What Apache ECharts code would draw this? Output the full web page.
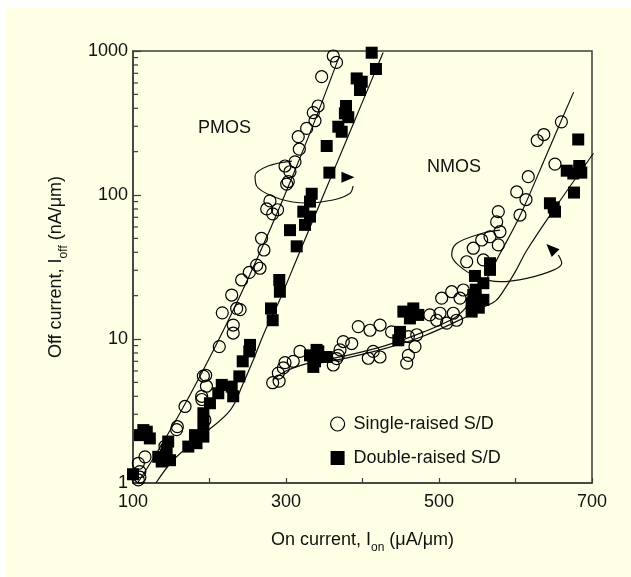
<!DOCTYPE html>
<html>
<head>
<meta charset="utf-8">
<script src="https://cdn.jsdelivr.net/npm/echarts@6/dist/echarts.min.js"></script>
<style>
  html, body { margin: 0; padding: 0; background: #ffffff; }
  #chart { width: 631px; height: 577px; }
</style>
</head>
<body>
<div id="chart"></div>
<script>
// ---- measured data: [on current (uA/um), off current (nA/um)] ----
const pmosSingle = [
  [361.8,923],[366,833],[346.6,663],[342,415],[335.7,373],[337.9,328],[327,290],[316,254],
  [317.4,208],[311.8,170],[298.7,159],[305.2,145],[300.9,119],[303,124],[279,91],[274.8,80],
  [289,79],[282.6,74],[268,50],[271.2,41.5],[261.7,32.6],[266,31],[252,29],[242,25.7],
  [229,20.2],[216.7,15.2],[235.5,16.3],[240,16],[231,12.5],[231,11],[212.8,8.85],[192,5.53],
  [195,5.6],[196,4.7],[189.8,4.0],[190,3.8],[194,2.74],[168,3.4],[158,2.46],[157,2.35],
  [141.8,1.8],[115.7,1.52],[107,1.37],[109,1.2],[109,1.1],[107,1.05]
];
const pmosDouble = [
  [412,973],[417.6,750],[392.4,645],[399,612],[396.7,536],[378.4,415],[377,369],[381.4,347],
  [368.4,298],[372.8,275],[353.2,219],[356.7,143],[333.6,102],[331.4,90],[322.6,76.6],[331.4,70.8],
  [324.8,62],[305.2,57],[314,44],[291.2,25.7],[292,21.3],[280.4,16.3],[282.6,13.5],[253,9.1],
  [252,8.2],[243.4,7.0],[239,5.5],[229,4.67],[216,4.8],[211.5,4.2],[231,4.0],[200.6,3.58],
  [192,3.05],[192,2.53],[192,2.1],[181,2.15],[183,1.89],[172.3,1.79],[146,1.94],[144,1.7],
  [148.4,1.44],[133,1.52],[137.5,1.41],[113.5,2.33],[109,2.15],[122,2.04],[118,2.27],[100,1.15]
];
const nmosSingle = [
  [651.6,164],[616.7,134],[601.6,105],[613.7,93],[605.9,72.6],[577.5,76.6],[575.4,65],[579.7,55.6],
  [566.7,51.3],[577.5,45],[555.8,48.7],[544.8,42.7],[558,35.4],[536.2,34.4],[503.5,19.2],[516.6,21.3],
  [531.8,21.9],[527.5,19.2],[518.7,15.1],[501.3,15.1],[497,13.5],[510,12.9],[523,13.5],[488,14.7],
  [470.9,10.7],[460,10.4],[468.6,8.85],[460,7.7],[457.8,6.8],[438,11.2],[422.9,12.5],[409.8,11.5],
  [394.5,12.2],[422.9,7.5],[414,8.2],[407.6,7.35],[385.9,9.3],[374.9,9.6],[370.6,8.4],[361.8,6.6],
  [368.4,7.7],[282.6,4.97],[291,5.1],[290,5.8],[296.5,6.3],[298.7,6.85],[309.5,7.0],[318.3,8.2],
  [366.3,7.3],[628.4,239],[637,263],[660,322]
];
const nmosDouble = [
  [683.4,159],[667,147.5],[675.6,141],[686,143],[676.5,104],[645,87.6],[651.6,76.6],[650,82],
  [566.7,33.6],[566.7,30.2],[547,27.4],[558,24.4],[544.8,20.2],[548,22],[558,18.7],[542.7,17.7],
  [542.7,15.5],[552,16.5],[466.4,16.3],[453.4,15.5],[472.9,14.7],[462,13.9],[449,11.2],[446.8,9.8],
  [342.2,8.2],[337.9,7.0],[353.2,7.5],[331.4,7.7],[335.7,6.4],[340,8.4],[682,243],[683.7,151]
];

// ---- trend curves drawn through each data set ----
const pmosSingleFit = [[106,1],[130,1.59],[160,2.97],[190,5.83],[220,12.0],[250,26.0],[280,59.0],[310,141],[340,353],[368,871]];
const pmosDoubleFit = [[130,1.0],[153,1.45],[188,2.1],[227,3.2],[244,4.9],[257,7.1],[272,11.2],[290,17.8],[316,38],[349,100],[379,240],[427,977]];
const nmosSingleFit = [[283,5.2],[300,6.0],[330,6.8],[380,7.7],[430,9.0],[480,11.2],[520,14.0],[536,16.7],[560,25],[580,39.4],[606,72],[643,204],[676,518]];
const nmosDoubleFit = [[330,6.6],[380,7.4],[430,8.6],[480,10.5],[530,13.8],[560,16.8],[574,18.4],[584,21.5],[600,29.5],[615,41.5],[650,79],[702,195]];

// ---- shift arrows (loop + arrowhead) ----
const pmosLoop = [[307.8,172],[276.5,159],[259.5,135.5],[263.4,112],[292.2,93.8],[326.1,88],[361.4,92.3],[383.7,103],[387.6,115.5]];
const pmosArrowHead = [[381,133]];
const nmosLoop = [[579.7,57],[555.8,54],[523,46],[516.6,38.3],[525.3,32.6],[549,27.1],[579.7,25],[614.6,26.4],[649.5,30.1],[660.4,33.6],[656,38.3]];
const nmosArrowHead = [[646.4,42.5]];

// ---- axis ticks ----
const xLabelValues = [100, 300, 500, 700];
const yMinorTicks = [2,3,4,5,6,7,8,9,20,30,40,50,60,70,80,90,200,300,400,500,600,700,800,900];

const FONT = "'Liberation Sans', Arial, Helvetica, sans-serif";
const INK = '#111111';
const AXIS = '#3c3c3c';

const chart = echarts.init(document.getElementById('chart'), null, { renderer: 'canvas' });

function fitLine(name, data) {
  return {
    name, type: 'line', data, smooth: 0.35, symbol: 'none', silent: true, z: 3,
    lineStyle: { color: INK, width: 1.2 }
  };
}

const option = {
  backgroundColor: '#ffffff',
  animation: false,
  graphic: [
    { type: 'rect', left: 5, top: 8, shape: { width: 626, height: 569 }, style: { fill: '#ffffe6' }, z: -10, silent: true },
    { type: 'text', left: 198, top: 119, style: { text: 'PMOS', font: '18px ' + FONT, fill: INK }, z: 10 },
    { type: 'text', left: 427, top: 158, style: { text: 'NMOS', font: '18px ' + FONT, fill: INK }, z: 10 }
  ],
  grid: {
    left: 133, top: 51, width: 459, height: 432,
    show: true, borderColor: AXIS, borderWidth: 1.5, backgroundColor: 'transparent'
  },
  legend: {
    orient: 'vertical', left: 325, top: 410, itemWidth: 14, itemHeight: 14, itemGap: 16,
    data: [
      { name: 'Single-raised S/D', icon: 'circle', itemStyle: { color: 'transparent', borderColor: '#000', borderWidth: 1.2, opacity: 1 } },
      { name: 'Double-raised S/D', icon: 'rect', itemStyle: { color: '#000', opacity: 1 } }
    ],
    textStyle: { fontSize: 18, fontFamily: FONT, color: INK, lineHeight: 18, padding: [0, 0, 0, 4] },
    selectedMode: false
  },
  xAxis: {
    type: 'value', min: 100, max: 700, interval: 100,
    name: '{t|On current, I}{s|on}{t| (μA/μm)}',
    nameLocation: 'middle', nameGap: 46,
    nameTextStyle: {
      color: INK, fontFamily: FONT, fontSize: 18,
      rich: {
        t: { fontSize: 18, fontFamily: FONT, color: INK, lineHeight: 22, verticalAlign: 'middle' },
        s: { fontSize: 12, fontFamily: FONT, color: INK, lineHeight: 22, verticalAlign: 'bottom', padding: [0, 0, -3, 0] }
      }
    },
    axisLine: { show: true, lineStyle: { color: AXIS, width: 1.5 } },
    axisTick: { show: true, inside: true, length: 5, lineStyle: { color: AXIS, width: 1.2 } },
    axisLabel: {
      margin: 10, fontSize: 18, fontFamily: FONT, color: INK,
      formatter: v => (xLabelValues.includes(v) ? String(v) : '')
    },
    splitLine: { show: false }
  },
  yAxis: {
    type: 'log', logBase: 10, min: 1, max: 1000,
    name: '{t|Off current, I}{s|off}{t| (nA/μm)}',
    nameLocation: 'middle', nameGap: 66, nameRotate: 90,
    nameTextStyle: {
      color: INK, fontFamily: FONT, fontSize: 18,
      rich: {
        t: { fontSize: 18, fontFamily: FONT, color: INK, lineHeight: 22, verticalAlign: 'middle' },
        s: { fontSize: 12, fontFamily: FONT, color: INK, lineHeight: 22, verticalAlign: 'bottom', padding: [0, 0, -3, 0] }
      }
    },
    axisLine: { show: true, lineStyle: { color: AXIS, width: 1.5 } },
    axisTick: { show: true, inside: true, length: 8, lineStyle: { color: AXIS, width: 1.2 } },
    axisLabel: { margin: 5, fontSize: 18, fontFamily: FONT, color: INK, formatter: v => String(Math.round(v)) },
    minorTick: { show: false },
    splitLine: { show: false }
  },
  series: [
    {
      name: 'yMinorTicks', type: 'custom', silent: true, clip: false, z: 4,
      data: yMinorTicks.map(v => [100, v]),
      encode: { x: 0, y: 1 },
      renderItem: (params, api) => {
        const p = api.coord([100, api.value(1)]);
        return { type: 'line', shape: { x1: p[0], y1: p[1], x2: p[0] + 5, y2: p[1] }, style: { stroke: AXIS, lineWidth: 1.2 } };
      }
    },
    fitLine('pmosSingleFit', pmosSingleFit),
    fitLine('pmosDoubleFit', pmosDoubleFit),
    fitLine('nmosSingleFit', nmosSingleFit),
    fitLine('nmosDoubleFit', nmosDoubleFit),
    fitLine('pmosLoop', pmosLoop),
    fitLine('nmosLoop', nmosLoop),
    {
      name: 'pmosArrowHead', type: 'scatter', data: pmosArrowHead, symbol: 'triangle',
      symbolSize: [11, 13], symbolRotate: -90, silent: true, z: 6, itemStyle: { color: '#000', opacity: 1 }
    },
    {
      name: 'nmosArrowHead', type: 'scatter', data: nmosArrowHead, symbol: 'triangle',
      symbolSize: [11, 13], symbolRotate: 45, silent: true, z: 6, itemStyle: { color: '#000', opacity: 1 }
    },
    {
      name: 'Single-raised S/D', type: 'scatter', data: pmosSingle.concat(nmosSingle),
      symbol: 'circle', symbolSize: 12, z: 5,
      itemStyle: { color: 'transparent', borderColor: '#000', borderWidth: 1.2, opacity: 1 }
    },
    {
      name: 'Double-raised S/D', type: 'scatter', data: pmosDouble.concat(nmosDouble),
      symbol: 'rect', symbolSize: 12, z: 7,
      itemStyle: { color: '#000', opacity: 1 }
    }
  ]
};

chart.setOption(option);
</script>
</body>
</html>
